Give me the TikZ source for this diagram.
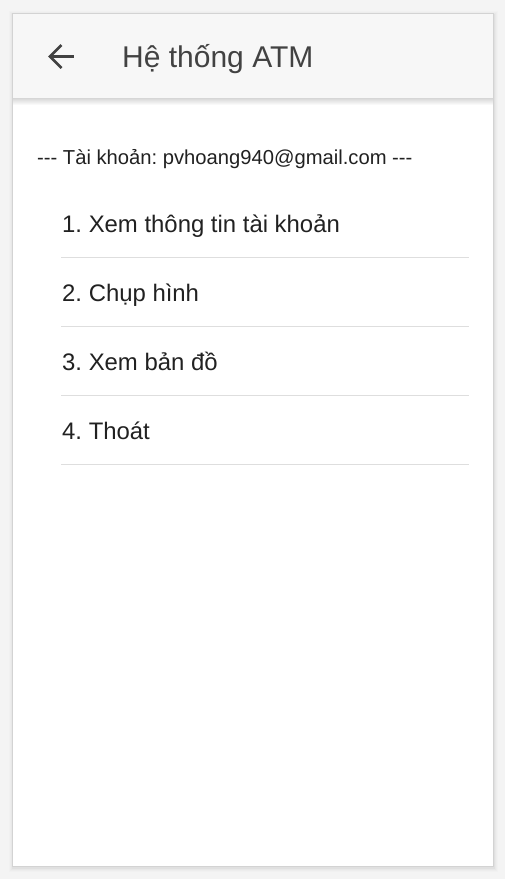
\documentclass[tikz,border=0pt]{standalone}
\usepackage{fontspec}
\setmainfont{Liberation Sans}[Ligatures=ResetAll]
\definecolor{pagebg}{HTML}{F4F4F4}
\definecolor{framecol}{HTML}{D3D3D3}
\definecolor{headbg}{HTML}{F7F7F7}
\definecolor{titlecol}{HTML}{424242}
\definecolor{textcol}{HTML}{212121}
\definecolor{sepcol}{HTML}{DEDEDE}
\newcommand{\hy}{\symbol{45}}
\tikzset{
  titletext/.style={anchor=base west, inner sep=0pt, text=titlecol, font=\fontsize{30}{36}\selectfont},
  accounttext/.style={anchor=base west, inner sep=0pt, text=textcol, font=\fontsize{20.2}{24}\selectfont},
  itemtext/.style={anchor=base west, inner sep=0pt, text=textcol, font=\fontsize{23.9}{28}\selectfont},
  sepline/.style={draw=sepcol, line width=1pt},
}
\begin{document}
\frenchspacing
\begin{tikzpicture}[x=1pt,y=-1pt]
\useasboundingbox (0,0) rectangle (505,879);
% page background and soft outer shadow
\fill[pagebg] (0,0) rectangle (505,879);
\foreach \i/\o in {4/0.01,3/0.015,2/0.02,1/0.03}{
  \fill[black,opacity=\o] (12.5-\i,13.5-\i+1) rectangle (493.5+\i,866.5+\i+1);
}
% card
\fill[white] (12.5,13.5) rectangle (493.5,866.5);
\fill[headbg] (12.5,13.5) rectangle (493.5,98);
\shade[top color=black!16, bottom color=white] (13,98) rectangle (493,105);
\draw[framecol, line width=1pt] (12.5,13.5) rectangle (493.5,866.5);
% back arrow
\draw[titlecol, line width=2.6pt] (50,56.5) -- (73.5,56.5);
\draw[titlecol, line width=2.6pt, line join=miter] (61.5,45) -- (50,56.5) -- (61.5,68);
% title
\node[titletext] (title) at (122,67) {Hệ thống ATM};
% account line
\node[accounttext] (account) at (37,164) {\hy\hy\hy{} Tài khoản: pvhoang940@gmail.com \hy\hy\hy};
% menu items
\node[itemtext] (item1) at (62,232) {1. Xem thông tin tài khoản};
\node[itemtext] (item2) at (62,301) {2. Chụp hình};
\node[itemtext] (item3) at (62,370) {3. Xem bản đồ};
\node[itemtext] (item4) at (62,439) {4. Thoát};
\coordinate (s1a) at (61,257.5); \coordinate (s1b) at (469,257.5);
\coordinate (s2a) at (61,326.5); \coordinate (s2b) at (469,326.5);
\coordinate (s3a) at (61,395.5); \coordinate (s3b) at (469,395.5);
\coordinate (s4a) at (61,464.5); \coordinate (s4b) at (469,464.5);
\draw[sepline] (s1a) -- (s1b);
\draw[sepline] (s2a) -- (s2b);
\draw[sepline] (s3a) -- (s3b);
\draw[sepline] (s4a) -- (s4b);
\end{tikzpicture}
\end{document}
